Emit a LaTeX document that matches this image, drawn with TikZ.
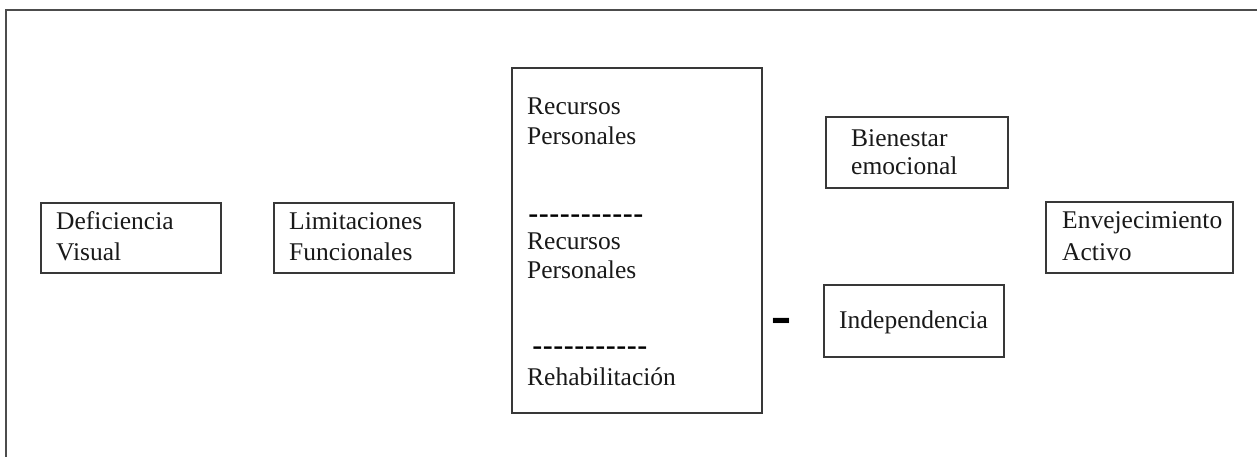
\documentclass[tikz,border=0pt]{standalone}
\usepackage{fontspec}
\setmainfont{Liberation Serif}
\newfontfamily\dashfont{Liberation Sans}
\newcommand\hy{\mbox{-}}
\begin{document}
\begin{tikzpicture}[x=1pt,y=-1pt]
\tikzset{
  box/.style={draw=black!78, line width=1.4pt, inner sep=0pt, outer sep=0pt, anchor=north west},
  txt/.style={anchor=base west, inner sep=0pt, text=black!90, text height=18pt, text depth=6pt, font=\fontsize{25.5}{28}\selectfont},
  dashrow/.style={anchor=base west, inner sep=0pt, text height=10pt, text depth=0pt, font=\dashfont\fontsize{31.5}{31}\selectfont},
  frame/.style={draw=black!70, line width=2pt}
}
\useasboundingbox (0,0) rectangle (1257,457);
% outer frame (top and left)
\coordinate (ftr) at (1257,10);
\coordinate (ftl) at (6,10);
\coordinate (fbl) at (6,457);
\draw[frame] (ftr) -- (ftl) -- (fbl);
% boxes
\node[box, minimum width=180pt, minimum height=70pt] (def) at (41,203) {};
\node[box, minimum width=180pt, minimum height=70pt] (lim) at (274,203) {};
\node[box, minimum width=250pt, minimum height=345pt] (rec) at (512,68) {};
\node[box, minimum width=182pt, minimum height=71pt] (bien) at (826,117) {};
\node[box, minimum width=187pt, minimum height=71pt] (env) at (1046,202) {};
\node[box, minimum width=180pt, minimum height=72pt] (ind) at (824,285) {};
% texts
\node[txt] (def1) at (56,229) {Deficiencia};
\node[txt] (def2) at (56,260) {Visual};
\node[txt] (lim1) at (289,229) {Limitaciones};
\node[txt] (lim2) at (289,260) {Funcionales};
\node[txt] (rec1) at (527,115) {Recursos};
\node[txt] (rec2) at (527,145) {Personales};
\node[dashrow] (dash1) at (528,224) {\hy\hy\hy\hy\hy\hy\hy\hy\hy\hy\hy};
\node[txt] (rec3) at (527,249) {Recursos};
\node[txt] (rec4) at (527,278) {Personales};
\node[dashrow] (dash2) at (532,356) {\hy\hy\hy\hy\hy\hy\hy\hy\hy\hy\hy};
\node[txt] (rec5) at (527,385) {Rehabilitación};
\node[txt] (bien1) at (851,147) {Bienestar};
\node[txt] (bien2) at (851,175) {emocional};
\node[txt] (env1) at (1062,228) {Envejecimiento};
\node[txt] (env2) at (1062,260) {Activo};
\node[txt] (ind1) at (839,328) {Independencia};
\node[anchor=base west, inner sep=0pt, font=\dashfont\fontsize{66}{66}\selectfont] (minus) at (770,338) {-};
\end{tikzpicture}
\end{document}
